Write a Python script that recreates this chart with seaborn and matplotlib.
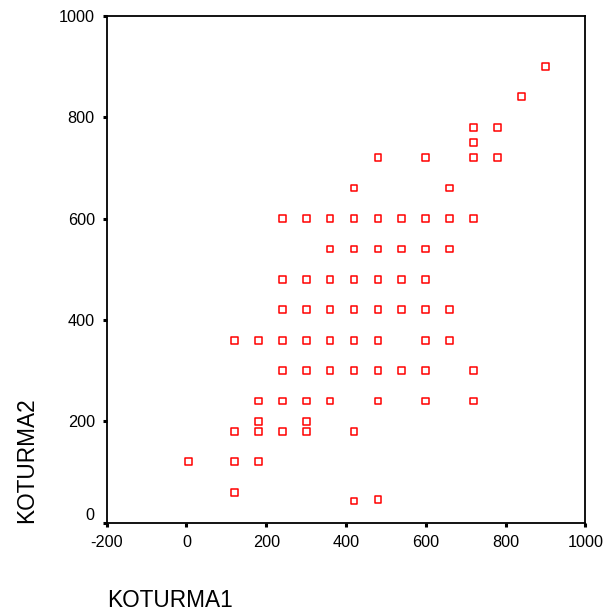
import matplotlib
matplotlib.use("Agg")
import matplotlib.pyplot as plt
import seaborn as sns
import pandas as pd

# Data
koturma1 = [900, 840, 720, 780, 720, 480, 600, 720, 780, 420, 660,
            240, 300, 360, 420, 480, 540, 600, 660, 720,
            360, 420, 480, 540, 600, 660,
            240, 300, 360, 420, 480, 540, 600,
            240, 300, 360, 420, 480, 540, 600, 660,
            120, 180, 240, 300, 360, 420, 480, 600, 660,
            240, 300, 360, 420, 480, 540, 600, 720,
            180, 240, 300, 360, 480, 600, 720,
            180, 300,
            120, 180, 240, 300, 420,
            5, 120, 180,
            120,
            420, 480]
koturma2 = [900, 840, 780, 780, 750, 720, 720, 720, 720, 660, 660,
            600, 600, 600, 600, 600, 600, 600, 600, 600,
            540, 540, 540, 540, 540, 540,
            480, 480, 480, 480, 480, 480, 480,
            420, 420, 420, 420, 420, 420, 420, 420,
            360, 360, 360, 360, 360, 360, 360, 360, 360,
            300, 300, 300, 300, 300, 300, 300, 300,
            240, 240, 240, 240, 240, 240, 240,
            200, 200,
            180, 180, 180, 180, 180,
            120, 120, 120,
            60,
            43, 46]
x_ticks = [-200, 0, 200, 400, 600, 800, 1000]
y_ticks = [0, 200, 400, 600, 800, 1000]

df = pd.DataFrame({"KOTURMA1": koturma1, "KOTURMA2": koturma2})

sns.set_style("white")
plt.rcParams["font.family"] = ["Liberation Sans", "DejaVu Sans"]
plt.rcParams["text.color"] = "black"
plt.rcParams["axes.labelcolor"] = "black"

fig = plt.figure(figsize=(6.06, 6.11), dpi=100)
ax = fig.add_axes([0.176, 0.1445, 0.790, 0.8298])

sns.scatterplot(data=df, x="KOTURMA1", y="KOTURMA2", ax=ax, marker="s",
                s=24, facecolor="none", edgecolor="#ff0000", linewidth=1.1)

ax.set_xlim(-200, 1000)
ax.set_ylim(0, 1000)
ax.set_xticks(x_ticks)
ax.set_yticks(y_ticks)
ax.set_xticklabels([str(v) for v in x_ticks])
ax.set_yticklabels([str(v) for v in y_ticks])

for sp in ax.spines.values():
    sp.set_visible(True)
    sp.set_color("black")
    sp.set_linewidth(1.3)

ax.tick_params(axis="both", direction="out", length=3, width=2.2,
               color="black", labelsize=11.7, labelcolor="black", pad=5.5,
               bottom=True, left=True)

# lift the "0" y tick label to sit above the x axis like the reference
for lbl in ax.get_yticklabels():
    if lbl.get_text() == "0":
        lbl.set_verticalalignment("bottom")

ax.set_xlabel("KOTURMA1", loc="left", fontsize=16.3, va="baseline", color="black")
ax.xaxis.set_label_coords(0.0, -0.166)
ax.set_ylabel("KOTURMA2", loc="bottom", fontsize=16.3, va="baseline", color="black")
ax.yaxis.set_label_coords(-0.153, 0.0)

fig.savefig("out.png", dpi=100)
